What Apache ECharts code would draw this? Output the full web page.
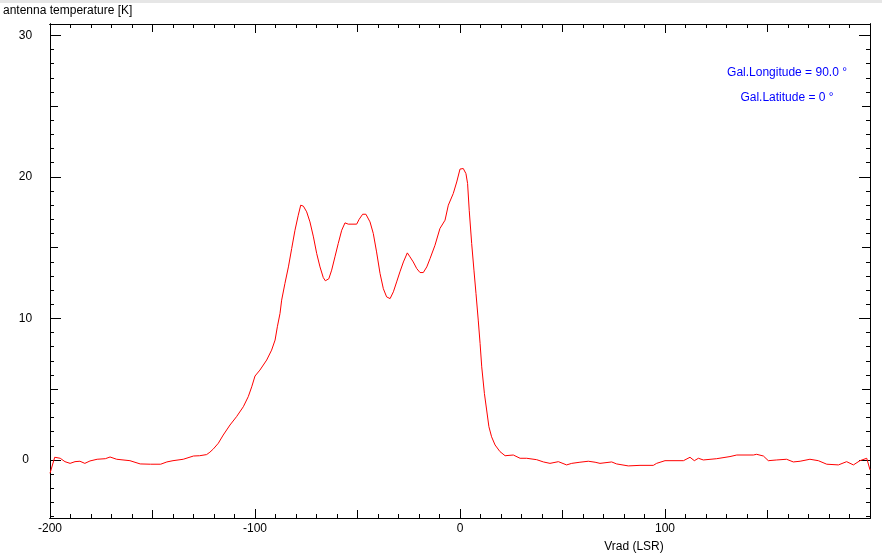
<!DOCTYPE html>
<html>
<head>
<meta charset="utf-8">
<script src="https://cdn.jsdelivr.net/npm/echarts@6/dist/echarts.min.js"></script>
<style>
html,body{margin:0;padding:0;background:#fff;}
#chart{width:892px;height:558px;}
</style>
</head>
<body>
<div id="chart"></div>
<script>
// ---- data ----
var velocity = [-200,-197.7,-195,-192.7,-190.2,-187.8,-185.4,-183,-180.5,-177,-173,-170.7,-167.5,-161,-156,-151,-146,-143,-140,-135,-130,-127,-123.6,-122,-120.3,-117.9,-115.5,-112.2,-109,-105.7,-103.3,-101.6,-100,-97.6,-94.3,-91.9,-90.2,-89.1,-87.8,-87,-85.4,-83.7,-82.1,-80.5,-78.9,-77.7,-76.4,-74.8,-73.2,-71.5,-69.9,-68.3,-66.7,-65.7,-64,-62.6,-61,-59.4,-57.7,-56.1,-54.5,-50.4,-49.2,-47.5,-45.9,-43.9,-42.3,-40.7,-39,-37.4,-35.8,-34.1,-32.5,-30.9,-29.3,-27.6,-25.7,-24.4,-22.8,-21.1,-19.5,-17.9,-16.2,-14.6,-12.2,-9.8,-7.3,-5.7,-3.3,-1.6,0,1.6,2.9,3.7,4.5,5.7,6.8,7.8,8.9,9.8,10.6,11.9,13,14.1,15.4,17.1,19.5,22,26,29.3,32.5,37.4,40.7,43.9,48,52,54.5,58.5,62.6,65.9,68.3,74,76.4,82.1,87.8,94.3,95.9,100,109,112.2,114.3,116.3,118.7,125.2,131.7,135,143.1,144.7,148,150.4,154.5,159.3,162.6,165.9,170.7,174.8,178.9,184.6,188.6,191.9,195.1,198.4,200];
var temperature = [-0.94,0.19,0.12,-0.12,-0.24,-0.12,-0.09,-0.24,-0.07,0.05,0.09,0.21,0.05,-0.05,-0.28,-0.3,-0.3,-0.14,-0.05,0.05,0.28,0.3,0.38,0.55,0.78,1.18,1.76,2.47,3.06,3.76,4.47,5.17,5.93,6.35,7.06,7.76,8.47,9.41,10.35,11.29,12.47,13.64,14.94,16.23,17.29,18.0,17.93,17.53,16.82,15.76,14.58,13.64,12.89,12.66,12.8,13.41,14.35,15.29,16.23,16.75,16.66,16.66,17.0,17.36,17.36,16.82,16.0,14.7,13.17,12.1,11.52,11.4,11.88,12.58,13.29,13.99,14.63,14.35,13.99,13.52,13.24,13.24,13.64,14.23,15.17,16.35,16.94,18.0,18.82,19.64,20.55,20.59,20.23,19.53,17.64,15.29,13.41,11.76,9.88,8.23,6.58,4.7,3.53,2.35,1.64,1.06,0.59,0.3,0.35,0.12,0.12,0.02,-0.14,-0.24,-0.12,-0.35,-0.24,-0.16,-0.09,-0.16,-0.24,-0.14,-0.28,-0.42,-0.38,-0.38,-0.24,-0.05,-0.05,0.19,-0.05,0.12,0,0.09,0.24,0.35,0.35,0.4,0.28,-0.05,0,0.05,-0.14,-0.09,0.05,-0.05,-0.3,-0.35,-0.12,-0.35,-0.05,0.12,-0.7];

var xMajorTicks = [-200,-100,0,100,200];
var xMidTicks = [-150,-50,50,150];
var xMinorTicks = [];
for (var v = -200; v <= 200; v += 10) xMinorTicks.push(v);
var xTickLabels = [-200,-100,0,100];

var yMajorTicks = [0,10,20,30];
var yMidTicks = [5,15,25];
var yMinorTicks = [];
for (var t = -4; t <= 30; t += 1) yMinorTicks.push(t);
var yTickLabels = [0,10,20,30];

var xMin = -200, xMax = 200, yMin = -4.1, yMax = 30.8;

var yTitle = 'antenna temperature [K]';
var xTitle = 'Vrad (LSR)';
var info1 = 'Gal.Longitude = 90.0 °';
var info2 = 'Gal.Latitude = 0 °';

// ---- build chart ----
var FONT = "'Liberation Sans', Arial, sans-serif";
var pairs = velocity.map(function (x, i) { return [x, temperature[i]]; });

function axis(kind, pos, ticks, len, labels) {
  var a = {
    type: 'value', position: pos,
    min: kind === 'x' ? xMin : yMin, max: kind === 'x' ? xMax : yMax,
    axisLine: { show: true, onZero: false, lineStyle: { color: '#000', width: 1 } },
    splitLine: { show: false },
    axisTick: { show: true, inside: true, length: len, customValues: ticks, lineStyle: { color: '#000', width: 1 } },
    axisLabel: { show: false }
  };
  if (labels) {
    a.axisLabel = {
      show: true, customValues: labels, color: '#000', fontSize: 12, fontFamily: FONT,
      margin: kind === 'x' ? 5 : 24.5, align: 'center'
    };
  }
  return a;
}

var chart = echarts.init(document.getElementById('chart'), null, { renderer: 'canvas' });
chart.setOption({
  animation: false,
  backgroundColor: '#fff',
  grid: { left: 50, right: 22, top: 24, bottom: 40, containLabel: false, outerBoundsMode: 'none' },
  xAxis: [
    axis('x', 'bottom', xMajorTicks, 9, xTickLabels),
    axis('x', 'bottom', xMidTicks, 8),
    axis('x', 'bottom', xMinorTicks, 4),
    axis('x', 'top', xMajorTicks, 9),
    axis('x', 'top', xMidTicks, 8),
    axis('x', 'top', xMinorTicks, 4)
  ],
  yAxis: [
    axis('y', 'left', yMajorTicks, 11, yTickLabels),
    axis('y', 'left', yMidTicks, 8),
    axis('y', 'left', yMinorTicks, 4),
    axis('y', 'right', yMajorTicks, 11),
    axis('y', 'right', yMidTicks, 8),
    axis('y', 'right', yMinorTicks, 4)
  ],
  series: [{
    type: 'line', xAxisIndex: 0, yAxisIndex: 0,
    data: pairs, showSymbol: false, smooth: false, clip: true,
    lineStyle: { color: '#ff0000', width: 1 }
  }],
  graphic: [
    { type: 'rect', left: 0, top: 0, shape: { width: 882, height: 3 }, style: { fill: '#e6e6e6' } },
    { type: 'text', x: 3, y: 10.5, style: { text: yTitle, fill: '#000', font: '12px ' + FONT, textVerticalAlign: 'middle' } },
    { type: 'text', x: 634, y: 547, style: { text: xTitle, fill: '#000', font: '12px ' + FONT, textAlign: 'center', textVerticalAlign: 'middle' } },
    { type: 'text', x: 787, y: 72.5, style: { text: info1, fill: '#0000ff', font: '12px ' + FONT, textAlign: 'center', textVerticalAlign: 'middle' } },
    { type: 'text', x: 787, y: 97.5, style: { text: info2, fill: '#0000ff', font: '12px ' + FONT, textAlign: 'center', textVerticalAlign: 'middle' } }
  ]
});
</script>
</body>
</html>
